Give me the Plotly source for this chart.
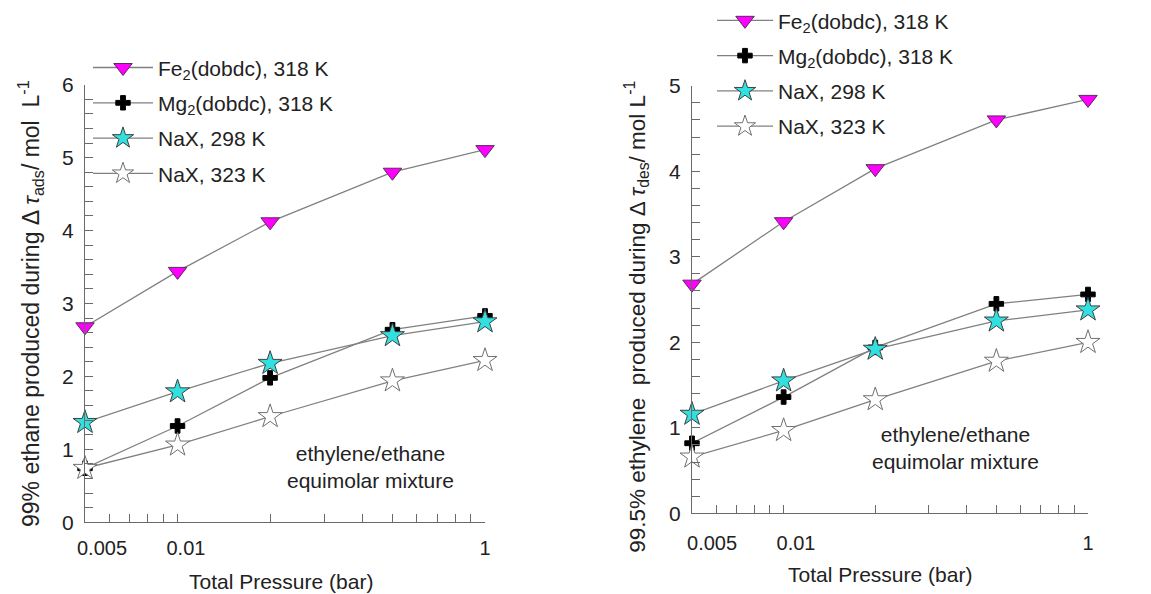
import plotly.graph_objects as go

# Pressure points (bar) and axis tick labels
pressure = [0.05, 0.1, 0.2, 0.5, 1.0]
x_tick_vals = [0.05, 0.06, 0.07, 0.08, 0.09, 0.1, 0.2, 0.3, 0.4, 0.5, 0.6, 0.7, 0.8, 0.9, 1.0]
x_label_text = ["0.005", "0.01", "1"]

# Adsorption step: 99% ethane produced (mol/L)
ads_fe = [2.68, 3.44, 4.12, 4.80, 5.11]
ads_mg = [0.74, 1.32, 1.98, 2.64, 2.83]
ads_nax298 = [1.37, 1.79, 2.18, 2.56, 2.75]
ads_nax323 = [0.74, 1.06, 1.45, 1.94, 2.22]

# Desorption step: 99.5% ethylene produced (mol/L)
des_fe = [2.68, 3.41, 4.03, 4.60, 4.84]
des_mg = [0.82, 1.36, 1.94, 2.45, 2.56]
des_nax298 = [1.16, 1.55, 1.92, 2.25, 2.38]
des_nax323 = [0.66, 0.97, 1.33, 1.78, 2.00]

series_names = [
    "Fe<sub>2</sub>(dobdc), 318 K",
    "Mg<sub>2</sub>(dobdc), 318 K",
    "NaX, 298 K",
    "NaX, 323 K",
]

W, H = 1151, 594
FONT = "Liberation Sans, Arial, sans-serif"
TXT = "#222222"
LINE = "#808080"
AXIS = "#6a6a6a"

styles = [
    dict(symbol="triangle-down", size=16, color="#ff00ff", line=dict(color="#5a2a5a", width=1)),
    dict(symbol="cross", size=12, color="#000000", line=dict(color="#000000", width=1)),
    dict(symbol="star", size=18, color="#33e0e0", line=dict(color="#404040", width=1)),
    dict(symbol="star", size=18, color="#ffffff", line=dict(color="#707070", width=1)),
]

fig = go.Figure()

panels = [
    ("x", "y", "legend", [ads_fe, ads_mg, ads_nax298, ads_nax323]),
    ("x2", "y2", "legend2", [des_fe, des_mg, des_nax298, des_nax323]),
]
for xa, ya, leg, data in panels:
    for i, (name, vals, st) in enumerate(zip(series_names, data, styles)):
        fig.add_trace(go.Scatter(
            x=pressure, y=vals, name=name, mode="lines+markers",
            xaxis=xa, yaxis=ya, legend=leg, legendgroup=f"{leg}{i}",
            line=dict(color=LINE, width=1.3),
            marker=st, cliponaxis=False,
        ))


def px_x(v):
    return v / W


def px_y(v):
    return 1 - v / H


def y_ticks(top):
    vals = [round(k * 0.2, 1) for k in range(top * 5 + 1)]
    text = [str(int(v)) if abs(v - round(v)) < 1e-9 else "" for v in vals]
    return vals, text


XRANGE = [-1.30103, 0]

# axes carrying the tick marks
xticks_common = dict(
    type="log", range=XRANGE, tickmode="array",
    tickvals=x_tick_vals, ticktext=[""] * len(x_tick_vals),
    ticks="inside", ticklen=8, tickcolor=AXIS, tickwidth=1,
    showline=True, linecolor=AXIS, linewidth=1.2, showgrid=False, zeroline=False,
    automargin=False,
)
# overlay axes carrying the tick labels, set slightly right of their marks
xlabels_common = dict(
    type="log", range=XRANGE, tickmode="array", ticktext=x_label_text,
    ticks="", showline=False, showgrid=False, zeroline=False,
    tickfont=dict(size=20, color=TXT, family=FONT), automargin=False,
)
ycommon = dict(
    tickmode="array", ticks="inside", ticklen=8, tickcolor=AXIS, tickwidth=1,
    ticklabelstandoff=6,
    showline=True, linecolor=AXIS, linewidth=1.2, showgrid=False, zeroline=False,
    tickfont=dict(size=21, color=TXT, family=FONT), automargin=False,
)
yv1, yt1 = y_ticks(6)
yv2, yt2 = y_ticks(5)

dom1 = [px_x(85), px_x(485)]
dom2 = [px_x(692), px_x(1088)]

fig.update_layout(
    width=W, height=H,
    margin=dict(l=0, r=0, t=0, b=0),
    paper_bgcolor="white", plot_bgcolor="white",
    font=dict(family=FONT, color=TXT, size=20),
    xaxis=dict(domain=dom1, anchor="y", **xticks_common),
    yaxis=dict(domain=[px_y(521), px_y(76)], anchor="x", range=[0, 6],
               tickvals=yv1, ticktext=yt1, **ycommon),
    xaxis2=dict(domain=dom2, anchor="y2", **xticks_common),
    yaxis2=dict(domain=[px_y(512), px_y(77)], anchor="x2", range=[0, 5],
                tickvals=yv2, ticktext=yt2, **ycommon),
    xaxis3=dict(domain=dom1, anchor="y", overlaying="x",
                tickvals=[0.0568, 0.1065, 1.0], ticklabelstandoff=12, **xlabels_common),
    xaxis4=dict(domain=dom2, anchor="y2", overlaying="x2",
                tickvals=[0.0582, 0.1098, 1.0], ticklabelstandoff=16, **xlabels_common),
    legend=dict(x=px_x(88), y=px_y(38), xanchor="left", yanchor="top",
                bgcolor="rgba(0,0,0,0)", font=dict(size=21, color=TXT, family=FONT),
                traceorder="grouped", tracegroupgap=5, itemsizing="trace", itemwidth=60),
    legend2=dict(x=px_x(712), y=1 + 10 / H, xanchor="left", yanchor="top",
                 bgcolor="rgba(0,0,0,0)", font=dict(size=21, color=TXT, family=FONT),
                 traceorder="grouped", tracegroupgap=5, itemsizing="trace", itemwidth=56),
    showlegend=True,
)

# invisible traces to activate the label axes
fig.add_trace(go.Scatter(x=[1.0], y=[0], xaxis="x3", yaxis="y", mode="markers",
                         marker=dict(opacity=0), showlegend=False, hoverinfo="skip"))
fig.add_trace(go.Scatter(x=[1.0], y=[0], xaxis="x4", yaxis="y2", mode="markers",
                         marker=dict(opacity=0), showlegend=False, hoverinfo="skip"))

ann_font = dict(size=21, color=TXT, family=FONT)
centered = dict(xref="paper", yref="paper", xanchor="center", yanchor="middle", showarrow=False)

# axis titles
fig.add_annotation(x=px_x(30), y=px_y(299), textangle=-90,
                   text="99% ethane produced during \u0394 <i>\u03c4</i><sub>ads</sub>/ mol  L<sup>-1</sup>",
                   font=dict(size=23, color=TXT, family=FONT), **centered)
fig.add_annotation(x=px_x(637), y=px_y(312), textangle=-90,
                   text="99.5% ethylene  produced during \u0394 <i>\u03c4</i><sub>des</sub>/ mol L<sup>-1</sup>",
                   font=dict(size=22.5, color=TXT, family=FONT), **centered)
fig.add_annotation(x=px_x(281), y=px_y(581), text="Total Pressure (bar)", font=ann_font, **centered)
fig.add_annotation(x=px_x(880), y=px_y(574), text="Total Pressure (bar)", font=ann_font, **centered)

# mixture notes
fig.add_annotation(x=px_x(370), y=px_y(465), text="ethylene/ethane<br>equimolar mixture",
                   font=ann_font, align="center", **centered)
fig.add_annotation(x=px_x(955), y=px_y(446), text="ethylene/ethane<br>equimolar mixture",
                   font=ann_font, align="center", **centered)

fig.write_html("out.html")
